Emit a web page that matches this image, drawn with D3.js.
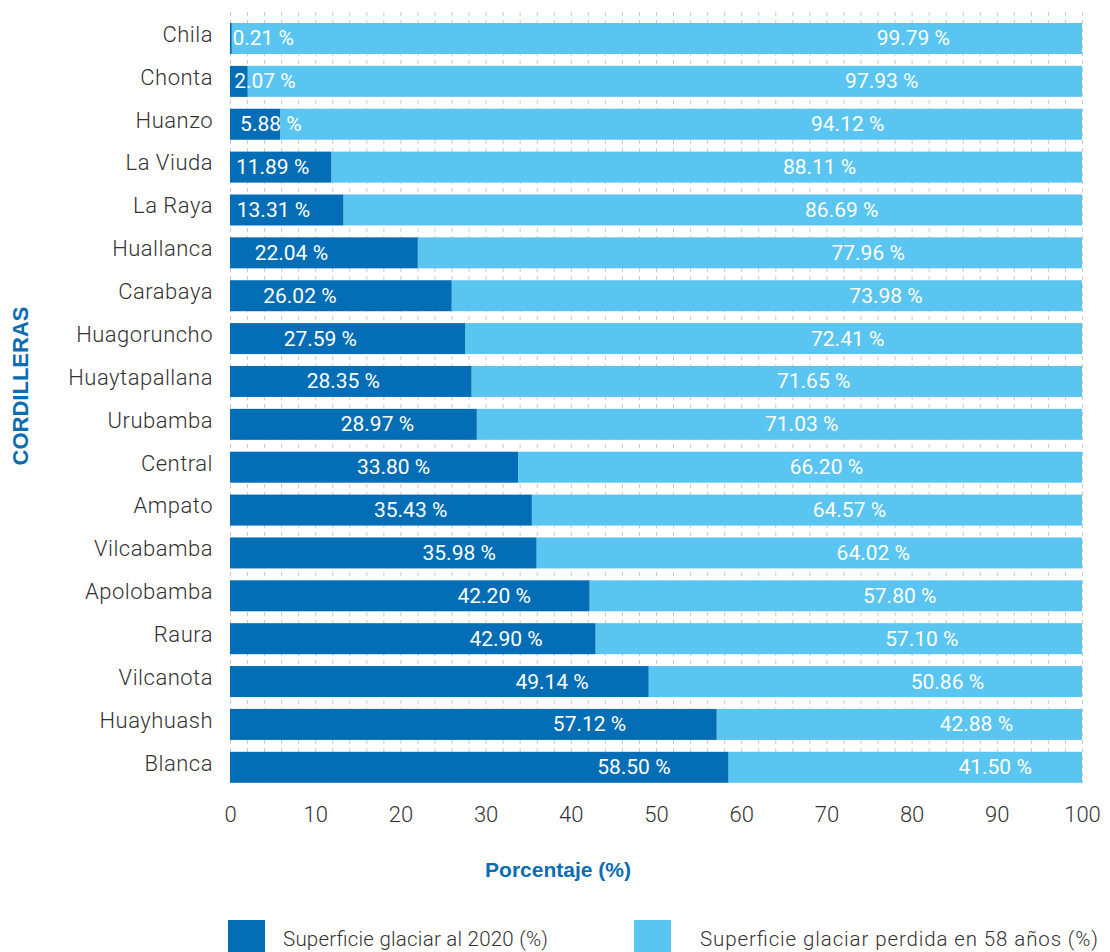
<!DOCTYPE html>
<html>
<head>
<meta charset="utf-8">
<script src="https://cdn.jsdelivr.net/npm/d3@7/dist/d3.min.js"></script>
<style>
  html, body { margin: 0; padding: 0; background: #fff; }
  svg { display: block; }
</style>
</head>
<body>
<svg id="chart" width="1110" height="952"></svg>
<script>
// Cordilleras, top to bottom
const categories = ["Chila", "Chonta", "Huanzo", "La Viuda", "La Raya", "Huallanca", "Carabaya",
  "Huagoruncho", "Huaytapallana", "Urubamba", "Central", "Ampato", "Vilcabamba",
  "Apolobamba", "Raura", "Vilcanota", "Huayhuash", "Blanca"];

// Glacier surface remaining in 2020 (%)
const glacier2020 = [0.21, 2.07, 5.88, 11.89, 13.31, 22.04, 26.02, 27.59, 28.35, 28.97,
  33.80, 35.43, 35.98, 42.20, 42.90, 49.14, 57.12, 58.50];

// Glacier surface lost over 58 years (%)
const glacierLost = [99.79, 97.93, 94.12, 88.11, 86.69, 77.96, 73.98, 72.41, 71.65, 71.03,
  66.20, 64.57, 64.02, 57.80, 57.10, 50.86, 42.88, 41.50];

// Where each value label sits along the percentage axis
const labelAt2020 = [3.9, 4.1, 4.8, 5.0, 5.1, 7.2, 8.2, 10.6, 13.3, 17.3,
  19.2, 21.2, 26.9, 31.0, 32.4, 37.8, 42.2, 47.4];
const labelAtLost = [80.2, 76.5, 72.5, 69.2, 71.8, 74.9, 77.0, 72.5, 68.5, 67.1,
  70.0, 72.7, 75.5, 78.6, 81.2, 84.2, 87.6, 89.8];

const xTicks = [0, 10, 20, 30, 40, 50, 60, 70, 80, 90, 100];
const gridValues = d3.range(0, 101, 2);

const seriesNames = ["Superficie glaciar al 2020 (%)", "Superficie glaciar perdida en 58 años (%)"];
const seriesColors = ["#036eb5", "#5bc5f1"];

const axisTitle = "Porcentaje (%)";
const categoryTitle = "CORDILLERAS";

const svg = d3.select("#chart");
const TEXT = "#333333";
const BLUE = "#0a6db3";

const x = d3.scaleLinear().domain([0, 100]).range([230, 1082]);
const y = d3.scaleBand().domain(categories).range([23, 782.8]).paddingInner(0.277).paddingOuter(0);

// Dashed vertical grid
svg.append("g")
  .selectAll("line")
  .data(gridValues)
  .join("line")
  .attr("x1", d => x(d) + 0.5)
  .attr("x2", d => x(d) + 0.5)
  .attr("y1", 12)
  .attr("y2", 783)
  .attr("stroke", "#cacaca")
  .attr("stroke-width", 1)
  .attr("stroke-dasharray", "4,4");

const rows = categories.map((c, i) => ({ c, a: glacier2020[i], b: glacierLost[i], la: labelAt2020[i], lb: labelAtLost[i] }));

// Stacked bars
const bars = svg.append("g");
bars.selectAll("rect.lost")
  .data(rows)
  .join("rect")
  .attr("class", "lost")
  .attr("x", d => x(d.a))
  .attr("y", d => y(d.c))
  .attr("width", d => x(d.a + d.b) - x(d.a))
  .attr("height", y.bandwidth())
  .attr("fill", seriesColors[1]);
bars.selectAll("rect.kept")
  .data(rows)
  .join("rect")
  .attr("class", "kept")
  .attr("x", x(0))
  .attr("y", d => y(d.c))
  .attr("width", d => x(d.a) - x(0))
  .attr("height", y.bandwidth())
  .attr("fill", seriesColors[0]);

// Value labels
const fmt = v => d3.format(".2f")(v) + " %";
const labels = svg.append("g")
  .attr("font-family", "Roboto, 'Noto Sans', sans-serif")
  .attr("font-size", 21)
  .attr("fill", "#ffffff")
  .attr("text-anchor", "middle");
labels.selectAll("text.kept")
  .data(rows)
  .join("text")
  .attr("class", "kept")
  .attr("x", d => x(d.la))
  .attr("y", d => y(d.c) + y.bandwidth() / 2 + 7)
  .text(d => fmt(d.a));
labels.selectAll("text.lost")
  .data(rows)
  .join("text")
  .attr("class", "lost")
  .attr("x", d => x(d.lb))
  .attr("y", d => y(d.c) + y.bandwidth() / 2 + 7)
  .text(d => fmt(d.b));

// Category axis
const yAxis = svg.append("g")
  .attr("transform", `translate(${x(0)},0)`)
  .call(d3.axisLeft(y).tickSize(0).tickPadding(17));
yAxis.select(".domain").remove();
yAxis.selectAll("text")
  .attr("dy", "0.15em")
  .attr("fill", TEXT)
  .attr("font-family", "Roboto, 'Noto Sans', sans-serif")
  .attr("font-weight", 300)
  .attr("font-size", 22)
  .attr("letter-spacing", 0.5);

// Percentage axis
const xAxis = svg.append("g")
  .attr("transform", "translate(0,783)")
  .call(d3.axisBottom(x).tickValues(xTicks).tickSize(0).tickPadding(23).tickFormat(d3.format("d")));
xAxis.select(".domain").remove();
xAxis.selectAll("text")
  .attr("fill", TEXT)
  .attr("font-family", "Roboto, 'Noto Sans', sans-serif")
  .attr("font-weight", 300)
  .attr("font-size", 22);

// Axis titles
svg.append("text")
  .attr("x", 558)
  .attr("y", 877)
  .attr("text-anchor", "middle")
  .attr("font-family", "'Liberation Sans', Arial, sans-serif")
  .attr("font-weight", "bold")
  .attr("font-size", 21)
  .attr("fill", BLUE)
  .text(axisTitle);

svg.append("text")
  .attr("transform", "translate(28,386) rotate(-90)")
  .attr("text-anchor", "middle")
  .attr("font-family", "'Liberation Sans', Arial, sans-serif")
  .attr("font-weight", "bold")
  .attr("font-size", 22)
  .attr("fill", BLUE)
  .text(categoryTitle);

// Legend
const legendX = [228, 634];
const legendTextGap = [55, 66];
const legendTextWidth = [265, 398];
const legend = svg.append("g")
  .selectAll("g")
  .data(seriesNames)
  .join("g")
  .attr("transform", (d, i) => `translate(${legendX[i]},920)`);
legend.append("rect")
  .attr("width", 37)
  .attr("height", 34)
  .attr("fill", (d, i) => seriesColors[i]);
legend.append("text")
  .attr("x", (d, i) => legendTextGap[i])
  .attr("y", 26)
  .attr("font-family", "Roboto, 'Noto Sans', sans-serif")
  .attr("font-weight", 300)
  .attr("font-size", 20.5)
  .attr("fill", TEXT)
  .attr("textLength", (d, i) => legendTextWidth[i])
  .attr("lengthAdjust", "spacing")
  .text(d => d);
</script>
</body>
</html>
